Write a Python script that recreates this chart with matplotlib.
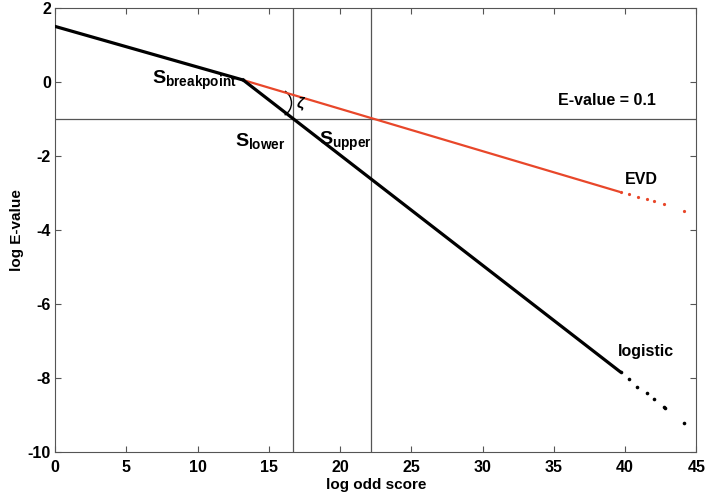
import matplotlib
matplotlib.use("Agg")
import matplotlib.pyplot as plt
from matplotlib.patches import Arc

plt.rcParams['font.family'] = ['Liberation Sans', 'DejaVu Sans']
plt.rcParams['font.weight'] = 'bold'
plt.rcParams['axes.unicode_minus'] = False
plt.rcParams['mathtext.fontset'] = 'custom'
plt.rcParams['mathtext.rm'] = 'Liberation Sans:bold'
plt.rcParams['mathtext.it'] = 'Liberation Sans:italic'
plt.rcParams['mathtext.bf'] = 'Liberation Sans:bold'

# values (log odd score, log E-value)
common_x = [0.0, 13.2]
common_y = [1.5, 0.05]

logistic_x = [13.2, 39.6]
logistic_y = [0.05, -7.82]
logistic_tail_x = [39.7, 40.3, 40.85, 41.5, 42.0, 42.7, 42.8, 44.1]
logistic_tail_y = [-7.85, -8.03, -8.26, -8.41, -8.58, -8.79, -8.82, -9.23]

evd_x = [13.2, 39.6]
evd_y = [0.05, -2.97]
evd_tail_x = [39.7, 40.3, 40.9, 41.5, 42.0, 42.7, 44.1]
evd_tail_y = [-2.98, -3.04, -3.10, -3.17, -3.23, -3.31, -3.48]

s_lower = 16.7
s_upper = 22.2
evalue_cut = -1.0  # log10(0.1)

red = '#e8472a'

fig = plt.figure(figsize=(7.07, 4.96), dpi=100)
ax = fig.add_axes([0.078, 0.089, 0.907, 0.895])

ax.axvline(s_lower, color='#555555', lw=0.9, zorder=1)
ax.axvline(s_upper, color='#555555', lw=0.9, zorder=1)
ax.axhline(evalue_cut, color='#555555', lw=0.9, zorder=1)

ax.plot(evd_x, evd_y, color=red, lw=1.6, zorder=2)
ax.plot(evd_tail_x, evd_tail_y, 'o', color=red, ms=2.3, mec='none', zorder=2)
ax.plot(common_x, common_y, color='black', lw=2.3, zorder=3)
ax.plot(logistic_x, logistic_y, color='black', lw=2.3, zorder=3)
ax.plot(logistic_tail_x, logistic_tail_y, 'o', color='black', ms=2.6, mec='none', zorder=3)

# angle marker between the two curves
ax.add_patch(Arc((15.6, -0.57), 1.97, 0.76, theta1=-33, theta2=32, color='black', lw=1.0))
ax.text(16.9, -0.6, r'$\zeta$', fontsize=11, va='center', ha='left')

ax.text(6.8, 0.05, r'$\mathrm{S}_{\mathrm{breakpoint}}$', fontsize=14, va='center', ha='left')
ax.text(12.6, -1.6, r'$\mathrm{S}_{\mathrm{lower}}$', fontsize=14, va='center', ha='left')
ax.text(18.5, -1.6, r'$\mathrm{S}_{\mathrm{upper}}$', fontsize=14, va='center', ha='left')
ax.text(35.3, -0.5, 'E-value = 0.1', fontsize=11.5, va='center', ha='left')
ax.text(40.0, -2.65, 'EVD', fontsize=11.5, va='center', ha='left')
ax.text(39.5, -7.3, 'logistic', fontsize=11.5, va='center', ha='left')

ax.set_xlim(0, 45)
ax.set_ylim(-10, 2)
ax.set_xticks(range(0, 46, 5))
ax.set_yticks(range(-10, 3, 2))
ax.tick_params(direction='in', top=True, right=True, labelsize=11.5, length=4, color='#555555')
ax.tick_params(axis='x', pad=6)
ax.tick_params(axis='y', pad=3)
for s in ax.spines.values():
    s.set_color('#555555')
ax.set_xlabel('log odd score', fontsize=11, fontweight='bold', labelpad=2)
ax.set_ylabel('log E-value', fontsize=11, fontweight='bold', labelpad=3)

fig.savefig('out.png', dpi=100)
